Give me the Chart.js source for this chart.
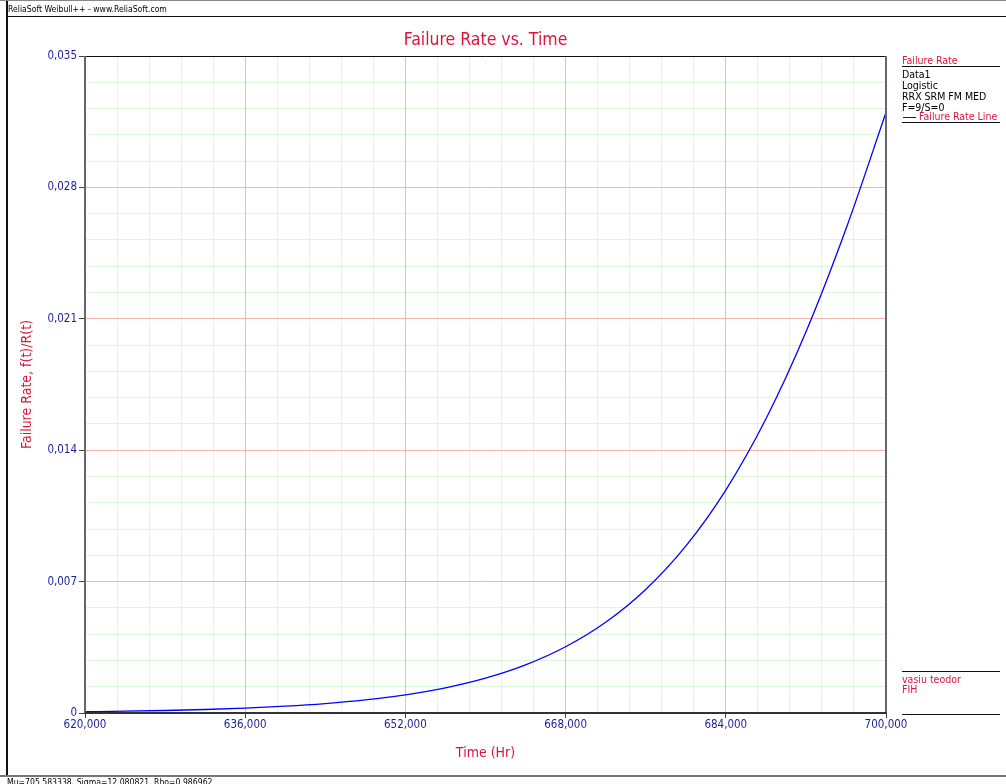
<!DOCTYPE html>
<html>
<head>
<meta charset="utf-8">
<script src="https://cdn.jsdelivr.net/npm/chart.js@4.4.1/dist/chart.umd.min.js"></script>
<style>
  body { margin: 0; width: 1006px; height: 784px; overflow: hidden; background: #fff; font-family: "DejaVu Sans Condensed", "DejaVu Sans", sans-serif; }
  #wrap { position: absolute; left: 0; top: 0; width: 1006px; height: 784px; }
  .txt { position: absolute; white-space: nowrap; line-height: 1; }
  .hl { position: absolute; height: 0; }
  .red { color: #dc143c; }
</style>
</head>
<body>
<div id="wrap"><canvas id="rateChart" width="1006" height="784"></canvas></div>

<!-- window frame -->
<div class="hl" style="left:0;top:0;width:1006px;border-top:1px solid #888;"></div>
<div style="position:absolute;left:6px;top:1px;width:0;height:774px;border-left:2px solid #111;"></div>
<div class="hl" style="left:7px;top:16px;width:999px;border-top:1px solid #111;"></div>
<div class="hl" style="left:0;top:775px;width:1006px;border-top:2px solid #777;"></div>
<div class="txt" style="left:8px;top:5px;font-size:8.6px;color:#000;">ReliaSoft Weibull++ - www.ReliaSoft.com</div>
<div class="txt" style="left:7px;top:778px;font-size:8.6px;color:#000;">Mu=705.583338, Sigma=12.080821, Rho=0.986962</div>

<!-- legend panel -->
<div class="txt red" style="left:902px;top:55px;font-size:10.5px;">Failure Rate</div>
<div class="hl" style="left:902px;top:66px;width:98px;border-top:1px solid #111;"></div>
<div class="txt" style="left:902px;top:69px;font-size:10.5px;color:#000;">Data1</div>
<div class="txt" style="left:902px;top:80px;font-size:10.5px;color:#000;">Logistic</div>
<div class="txt" style="left:902px;top:91px;font-size:10.5px;color:#000;">RRX SRM FM MED</div>
<div class="txt" style="left:902px;top:102px;font-size:10.5px;color:#000;">F=9/S=0</div>
<div class="hl" style="left:903px;top:117px;width:13px;border-top:1px solid #0000ff;"></div>
<div class="txt red" style="left:919px;top:111px;font-size:10.5px;">Failure Rate Line</div>
<div class="hl" style="left:902px;top:122px;width:98px;border-top:1px solid #111;"></div>
<div class="hl" style="left:902px;top:671px;width:98px;border-top:1px solid #111;"></div>
<div class="txt red" style="left:902px;top:674px;font-size:10.5px;">vasiu teodor</div>
<div class="txt red" style="left:902px;top:684px;font-size:10.5px;">FIH</div>
<div class="hl" style="left:902px;top:714px;width:98px;border-top:1px solid #111;"></div>

<script>
// Time (Hr) and failure rate
const times = [620, 624, 628, 632, 636, 640, 644, 648, 652, 656, 660,
               664, 668, 672, 676, 680, 684, 688, 692, 696, 700];
const rates = [0.0000693, 0.0000965, 0.0001343, 0.0001869, 0.0002601, 0.0003617,
               0.0005028, 0.0006985, 0.0009694, 0.0013438, 0.0018593, 0.0025665,
               0.0035314, 0.0048356, 0.006583, 0.008889, 0.011878, 0.015658,
               0.020296, 0.025782, 0.03199];

const xMajorTicks = [620, 636, 652, 668, 684, 700];
const yMajorTicks = [0, 0.007, 0.014, 0.021, 0.028, 0.035];
const minorPerMajor = 5;

const crimson = '#dc143c';
const tickBlue = '#1e1e96';
const majorGrid = '#f2b6ac';
const minorGrid = '#dcf8dc';
const fontFamily = '"DejaVu Sans Condensed", "DejaVu Sans", sans-serif';

// major ticks split into minor steps, used for the gridlines
function withMinor(majors) {
    const out = [];
    for (let i = 0; i < majors.length - 1; i++) {
        const step = (majors[i + 1] - majors[i]) / minorPerMajor;
        for (let k = 0; k < minorPerMajor; k++) out.push({ value: majors[i] + k * step });
    }
    out.push({ value: majors[majors.length - 1] });
    return out;
}

function commaNum(v, digits) {
    return v.toFixed(digits).replace('.', ',');
}

function isMajor(c) {
    return c.index % minorPerMajor === 0;
}

// same snapping chart.js uses for 1px gridlines
function crisp(px) {
    return Math.round(px - 0.5) + 0.5;
}

// major gridlines drawn in place of the skipped minor ones
const majorLines = {
    id: 'majorLines',
    beforeDatasetsDraw(chart) {
        const { ctx, chartArea: a, scales } = chart;
        ctx.save();
        ctx.strokeStyle = majorGrid;
        ctx.lineWidth = 1;
        ctx.beginPath();
        xMajorTicks.forEach(v => {
            const px = crisp(scales.x.getPixelForValue(v));
            ctx.moveTo(px, a.top);
            ctx.lineTo(px, a.bottom);
        });
        yMajorTicks.forEach(v => {
            const py = crisp(scales.y.getPixelForValue(v));
            ctx.moveTo(a.left, py);
            ctx.lineTo(a.right, py);
        });
        ctx.stroke();
        ctx.restore();
    }
};

const plotFrame = {
    id: 'plotFrame',
    afterDatasetsDraw(chart) {
        const { ctx, chartArea: a } = chart;
        ctx.save();
        ctx.strokeStyle = '#111';
        ctx.lineWidth = 1;
        ctx.beginPath();
        ctx.moveTo(a.left, a.top + 0.5);
        ctx.lineTo(a.right, a.top + 0.5);
        ctx.stroke();
        ctx.strokeStyle = '#666';
        ctx.lineWidth = 2;
        ctx.beginPath();
        ctx.moveTo(a.left, a.top);
        ctx.lineTo(a.left, a.bottom);
        ctx.moveTo(a.right, a.top);
        ctx.lineTo(a.right, a.bottom);
        ctx.stroke();
        ctx.strokeStyle = '#333';
        ctx.beginPath();
        ctx.moveTo(a.left, a.bottom);
        ctx.lineTo(a.right + 1, a.bottom);
        ctx.stroke();
        // chart title
        ctx.fillStyle = crimson;
        ctx.font = '17.5px ' + fontFamily;
        ctx.textAlign = 'center';
        ctx.textBaseline = 'middle';
        ctx.fillText('Failure Rate vs. Time', (a.left + a.right) / 2, 40);
        ctx.restore();
    }
};

const ctx = document.getElementById('rateChart').getContext('2d');
const rateChart = new Chart(ctx, {
    type: 'line',
    data: {
        datasets: [{
            label: 'Failure Rate Line',
            data: times.map((t, i) => ({ x: t, y: rates[i] })),
            borderColor: '#0000ff',
            borderWidth: 1.3,
            pointRadius: 0,
            fill: false,
            cubicInterpolationMode: 'monotone'
        }]
    },
    options: {
        responsive: false,
        animation: false,
        layout: { padding: { left: 0, right: 120, top: 56, bottom: 0 } },
        plugins: {
            legend: { display: false },
            title: { display: false },
            tooltip: { enabled: false }
        },
        scales: {
            x: {
                type: 'linear',
                min: 620,
                max: 700,
                afterBuildTicks: scale => { scale.ticks = withMinor(xMajorTicks); },
                afterFit: scale => { scale.height = 71; },
                border: { display: false },
                grid: {
                    color: c => (isMajor(c) ? 'rgba(0,0,0,0)' : minorGrid),
                    tickColor: c => (isMajor(c) ? '#444' : 'rgba(0,0,0,0)'),
                    tickLength: 5
                },
                ticks: {
                    autoSkip: false,
                    maxRotation: 0,
                    padding: 0,
                    color: tickBlue,
                    font: { family: fontFamily, size: 11.5 },
                    callback: (v, i) => (i % minorPerMajor === 0 ? commaNum(v, 3) : '')
                },
                title: {
                    display: true,
                    text: 'Time (Hr)',
                    color: crimson,
                    font: { family: fontFamily, size: 14 },
                    padding: { top: 0, bottom: 22 }
                }
            },
            y: {
                type: 'linear',
                min: 0,
                max: 0.035,
                afterBuildTicks: scale => { scale.ticks = withMinor(yMajorTicks); },
                afterFit: scale => { scale.width = 85; },
                border: { display: false },
                grid: {
                    color: c => (isMajor(c) ? 'rgba(0,0,0,0)' : minorGrid),
                    tickColor: c => (isMajor(c) ? '#444' : 'rgba(0,0,0,0)'),
                    tickLength: 6
                },
                ticks: {
                    autoSkip: false,
                    padding: 2,
                    color: tickBlue,
                    font: { family: fontFamily, size: 11.5 },
                    callback: (v, i) => (i % minorPerMajor === 0 ? (v === 0 ? '0' : commaNum(v, 3)) : '')
                },
                title: {
                    display: true,
                    text: 'Failure Rate, f(t)/R(t)',
                    color: crimson,
                    font: { family: fontFamily, size: 14 },
                    padding: { top: 19, bottom: 0 }
                }
            }
        }
    },
    plugins: [majorLines, plotFrame]
});
</script>
</body>
</html>
